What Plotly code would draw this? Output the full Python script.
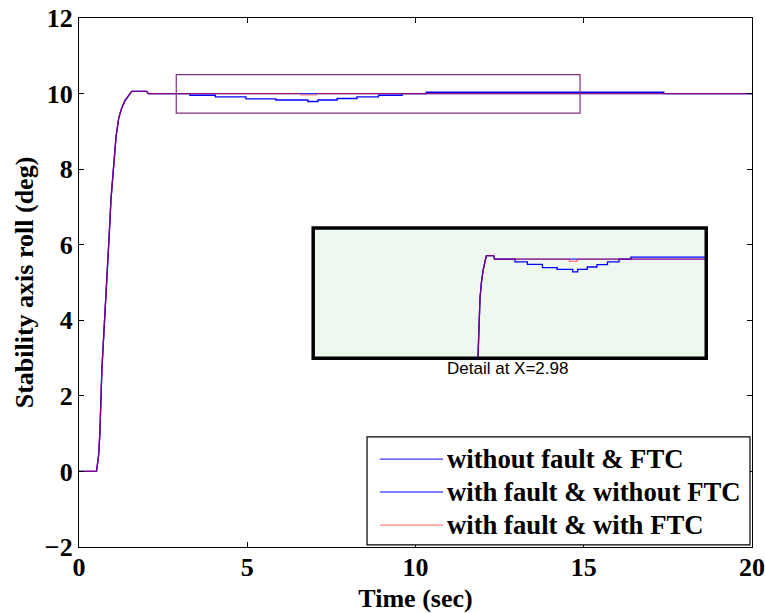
import plotly.graph_objects as go

# ---------------- data ----------------
# common transient response (time in s, roll in deg)
rise_t = [0, 0.52, 0.58, 0.62, 0.68, 0.74, 0.80, 0.85, 0.90, 0.95, 1.02, 1.10,
          1.18, 1.27, 1.37, 1.50, 1.57, 2.01, 2.06]
rise_v = [0, 0, 0.4, 1.0, 2.7, 3.6, 4.5, 5.4, 6.3, 7.2, 8.05, 8.85,
          9.35, 9.62, 9.82, 9.98, 10.06, 10.06, 10.0]
end_t = 20.0

# with fault & without FTC : staircase deviation after the fault
fault_break_t = [3.30, 4.05, 4.96, 5.85, 6.80, 7.10, 7.67, 8.26, 8.90, 9.60, 10.32, 17.38]
fault_level = [9.955, 9.915, 9.86, 9.83, 9.79, 9.83, 9.87, 9.91, 9.955, 10.0, 10.035, 10.0]

# with fault & with FTC : tiny deviation
ftc_break_t = [6.60, 7.05]
ftc_level = [9.965, 10.0]

series_names = ["without fault & FTC", "with fault & without FTC", "with fault & with FTC"]

x_ticks = [0, 5, 10, 15, 20]
y_ticks = [-2, 0, 2, 4, 6, 8, 10, 12]

detail_label = "Detail at X=2.98"
detail_center = 2.98


def staircase(bt, lv):
    t = list(rise_t)
    v = list(rise_v)
    prev = rise_v[-1]
    for b, l in zip(bt, lv):
        t += [b, b]
        v += [prev, l]
        prev = l
    t.append(end_t)
    v.append(prev)
    return t, v


t1, v1 = list(rise_t) + [end_t], list(rise_v) + [rise_v[-1]]
t2, v2 = staircase(fault_break_t, fault_level)
t3, v3 = staircase(ftc_break_t, ftc_level)

serif = "Liberation Serif, Times New Roman, serif"
sans = "Liberation Sans, Arial, sans-serif"
FS = 26
FS_LEG = 26.7

styles = [
    dict(color="#2a2aff", width=1.3),
    dict(color="#0000ff", width=1.3),
    dict(color="#ff0000", width=1.3),
]
legend_colors = ["#3a3aff", "#0000ff", "#ff8080"]
opac = [1.0, 1.0, 0.5]
data = [(t1, v1), (t2, v2), (t3, v3)]

fig = go.Figure()
for (t, v), name, st, op in zip(data, series_names, styles, opac):
    fig.add_trace(go.Scatter(x=t, y=v, mode="lines", name=name, line=st,
                             opacity=op, xaxis="x", yaxis="y", showlegend=False))
for (t, v), name, st, op in zip(data, series_names, styles, opac):
    fig.add_trace(go.Scatter(x=t, y=v, mode="lines", name=name, line=st,
                             opacity=op, xaxis="x2", yaxis="y2",
                             showlegend=False))

axis_common = dict(showline=True, linecolor="black", linewidth=1.3, mirror="ticks",
                   ticks="inside", ticklen=5, tickcolor="black", showgrid=False,
                   zeroline=False, automargin=False,
                   tickfont=dict(family=serif, size=FS, color="black", weight="bold"))

# inset placement (paper coordinates)
ins_x = [0.348, 0.932]
ins_y = [0.357, 0.603]
half_w = 11.9

# legend box placement (paper coordinates)
leg_box_x = [0.428, 0.997]
leg_box_y = [0.004, 0.208]
leg_line_x = [0.447, 0.541]
leg_text_x = 0.5435
leg_rows_y = [0.166, 0.104, 0.0415]

shapes = [
    dict(type="rect", xref="x", yref="y", x0=2.89, x1=14.89, y0=9.48, y1=10.5,
         line=dict(color="#803080", width=1.2)),
    dict(type="rect", xref="paper", yref="paper", x0=ins_x[0], x1=ins_x[1],
         y0=ins_y[0], y1=ins_y[1], fillcolor="#eff8ef",
         line=dict(width=0), layer="below"),
    dict(type="rect", xref="paper", yref="paper", x0=ins_x[0], x1=ins_x[1],
         y0=ins_y[0], y1=ins_y[1], line=dict(color="black", width=3.5),
         layer="above"),
    dict(type="rect", xref="paper", yref="paper", x0=leg_box_x[0], x1=leg_box_x[1],
         y0=leg_box_y[0], y1=leg_box_y[1], fillcolor="white",
         line=dict(color="black", width=1.2), layer="above"),
]
annotations = [
    dict(text=detail_label, xref="paper", yref="paper", x=0.636, y=0.315,
         showarrow=False, font=dict(family=sans, size=17, color="black")),
]
for name, col, yy in zip(series_names, legend_colors, leg_rows_y):
    shapes.append(dict(type="line", xref="paper", yref="paper",
                       x0=leg_line_x[0], x1=leg_line_x[1], y0=yy, y1=yy,
                       line=dict(color=col, width=1.2), layer="above"))
    annotations.append(dict(text=name, xref="paper", yref="paper", x=leg_text_x,
                            y=yy, xanchor="left", yanchor="middle", showarrow=False,
                            font=dict(family=serif, size=FS_LEG, color="black",
                                      weight="bold")))

fig.update_layout(
    width=765, height=613,
    margin=dict(l=79, r=13, t=18, b=66),
    paper_bgcolor="white", plot_bgcolor="rgba(0,0,0,0)",
    showlegend=False,
    xaxis=dict(range=[0, 20], tickvals=x_ticks, ticklabelstandoff=-3,
               title=dict(text="Time (sec)", standoff=7,
                          font=dict(family=serif, size=FS, color="black", weight="bold")),
               **axis_common),
    yaxis=dict(range=[-2, 12], tickvals=y_ticks,
               title=dict(text="Stability axis roll (deg)", standoff=3,
                          font=dict(family=serif, size=FS, color="black", weight="bold")),
               **axis_common),
    xaxis2=dict(domain=ins_x, range=[detail_center - half_w, detail_center + half_w],
                anchor="y2", showticklabels=False, ticks="", showgrid=False,
                zeroline=False, showline=False),
    yaxis2=dict(domain=ins_y, range=[8.35, 10.52], anchor="x2",
                showticklabels=False, ticks="", showgrid=False, zeroline=False,
                showline=False),
    shapes=shapes,
    annotations=annotations,
)

# remove the default 8px page margin so the figure fills the window exactly
fig.write_html("out.html", config={"displayModeBar": False},
               post_script="document.body.style.margin='0';")
